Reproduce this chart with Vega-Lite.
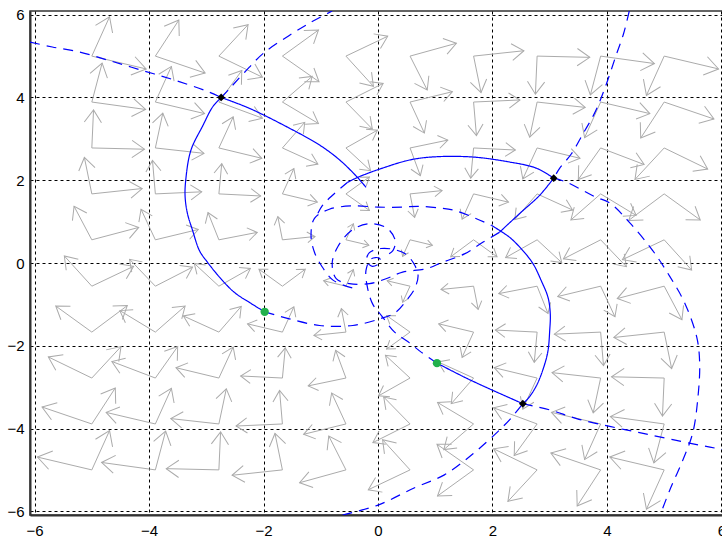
{
"$schema": "https://vega.github.io/schema/vega-lite/v6.json",
"width": 696, "height": 504,
"autosize": {"type": "none"},
"padding": {"left": 30, "top": 11, "right": 0, "bottom": 23},
"background": "white",
"config": {
  "view": {"stroke": "#333333", "strokeWidth": 1.5},
  "axis": {"grid": true, "gridColor": "#000000", "gridDash": [3,3], "gridWidth": 1, "gridOpacity": 1, "ticks": false, "domain": true, "domainColor": "#333333", "domainWidth": 2, "labelFont": "Liberation Sans", "labelFontSize": 15, "labelColor": "#000000", "labelFlush": false, "labelOverlap": false, "format": "d"}
},
"datasets": {
"arrows": [
{"x":0.56,"y":0.56,"u":0.95,"v":0.43,"d":13,"m":0.42},{"x":0.56,"y":0.56,"u":0.43,"v":0.16,"d":114,"m":0.42},
{"x":1.67,"y":0.56,"u":2.08,"v":0.15,"d":35,"m":0.57},{"x":1.67,"y":0.56,"u":1.27,"v":0.15,"d":144,"m":0.57},
{"x":2.78,"y":0.56,"u":3.21,"v":0.01,"d":42,"m":0.69},{"x":2.78,"y":0.56,"u":2.23,"v":0.13,"d":150,"m":0.69},
{"x":3.89,"y":0.56,"u":4.34,"v":-0.09,"d":46,"m":0.79},{"x":3.89,"y":0.56,"u":3.24,"v":0.10,"d":153,"m":0.79},
{"x":5,"y":0.56,"u":5.48,"v":-0.17,"d":48,"m":0.87},{"x":5,"y":0.56,"u":4.27,"v":0.08,"d":155,"m":0.87},
{"x":0.56,"y":1.67,"u":1.12,"v":1.75,"d":-6,"m":0.57},{"x":0.56,"y":1.67,"u":0.64,"v":1.10,"d":78,"m":0.57},
{"x":1.67,"y":1.67,"u":2.28,"v":1.47,"d":13,"m":0.64},{"x":1.67,"y":1.67,"u":1.47,"v":1.06,"d":114,"m":0.64},
{"x":2.78,"y":1.67,"u":3.40,"v":1.28,"d":24,"m":0.73},{"x":2.78,"y":1.67,"u":2.39,"v":1.05,"d":131,"m":0.73},
{"x":3.89,"y":1.67,"u":4.51,"v":1.15,"d":31,"m":0.81},{"x":3.89,"y":1.67,"u":3.37,"v":1.04,"d":139,"m":0.81},
{"x":5,"y":1.67,"u":5.63,"v":1.04,"d":35,"m":0.89},{"x":5,"y":1.67,"u":4.38,"v":1.03,"d":144,"m":0.89},
{"x":0.56,"y":2.78,"u":1.22,"v":2.97,"d":-11,"m":0.69},{"x":0.56,"y":2.78,"u":0.74,"v":2.11,"d":69,"m":0.69},
{"x":1.67,"y":2.78,"u":2.40,"v":2.73,"d":3,"m":0.73},{"x":1.67,"y":2.78,"u":1.62,"v":2.05,"d":95,"m":0.73},
{"x":2.78,"y":2.78,"u":3.53,"v":2.53,"d":13,"m":0.79},{"x":2.78,"y":2.78,"u":2.53,"v":2.03,"d":114,"m":0.79},
{"x":3.89,"y":2.78,"u":4.65,"v":2.38,"d":21,"m":0.86},{"x":3.89,"y":2.78,"u":3.50,"v":2.02,"d":126,"m":0.86},
{"x":5,"y":2.78,"u":5.76,"v":2.27,"d":26,"m":0.92},{"x":5,"y":2.78,"u":4.49,"v":2.02,"d":133,"m":0.92},
{"x":0.56,"y":3.89,"u":1.30,"v":4.14,"d":-14,"m":0.79},{"x":0.56,"y":3.89,"u":0.81,"v":3.14,"d":65,"m":0.79},
{"x":1.67,"y":3.89,"u":2.48,"v":3.94,"d":-3,"m":0.81},{"x":1.67,"y":3.89,"u":1.72,"v":3.08,"d":85,"m":0.81},
{"x":2.78,"y":3.89,"u":3.62,"v":3.76,"d":6,"m":0.86},{"x":2.78,"y":3.89,"u":2.65,"v":3.04,"d":102,"m":0.86},
{"x":3.89,"y":3.89,"u":4.75,"v":3.61,"d":13,"m":0.9},{"x":3.89,"y":3.89,"u":3.61,"v":3.03,"d":114,"m":0.9},
{"x":5,"y":3.89,"u":5.87,"v":3.48,"d":19,"m":0.96},{"x":5,"y":3.89,"u":4.59,"v":3.02,"d":123,"m":0.96},
{"x":0.56,"y":5,"u":1.37,"v":5.31,"d":-15,"m":0.87},{"x":0.56,"y":5,"u":0.86,"v":4.18,"d":62,"m":0.87},
{"x":1.67,"y":5,"u":2.55,"v":5.13,"d":-6,"m":0.89},{"x":1.67,"y":5,"u":1.80,"v":4.12,"d":78,"m":0.89},
{"x":2.78,"y":5,"u":3.70,"v":4.97,"d":1,"m":0.92},{"x":2.78,"y":5,"u":2.75,"v":4.08,"d":93,"m":0.92},
{"x":3.89,"y":5,"u":4.83,"v":4.82,"d":8,"m":0.96},{"x":3.89,"y":5,"u":3.71,"v":4.06,"d":105,"m":0.96},
{"x":5,"y":5,"u":5.95,"v":4.69,"d":13,"m":1},{"x":5,"y":5,"u":4.69,"v":4.05,"d":114,"m":1},
{"x":-0.56,"y":0.56,"u":-0.43,"v":0.95,"d":-66,"m":0.42},{"x":-0.56,"y":0.56,"u":-0.16,"v":0.43,"d":13,"m":0.42},
{"x":-0.56,"y":1.67,"u":-0.15,"v":2.08,"d":-36,"m":0.57},{"x":-0.56,"y":1.67,"u":-0.15,"v":1.27,"d":35,"m":0.57},
{"x":-0.56,"y":2.78,"u":-0.01,"v":3.21,"d":-30,"m":0.69},{"x":-0.56,"y":2.78,"u":-0.13,"v":2.23,"d":42,"m":0.69},
{"x":-0.56,"y":3.89,"u":0.09,"v":4.34,"d":-27,"m":0.79},{"x":-0.56,"y":3.89,"u":-0.10,"v":3.24,"d":46,"m":0.79},
{"x":-0.56,"y":5,"u":0.17,"v":5.48,"d":-25,"m":0.87},{"x":-0.56,"y":5,"u":-0.08,"v":4.27,"d":48,"m":0.87},
{"x":-1.67,"y":0.56,"u":-1.75,"v":1.12,"d":-102,"m":0.57},{"x":-1.67,"y":0.56,"u":-1.10,"v":0.64,"d":-6,"m":0.57},
{"x":-1.67,"y":1.67,"u":-1.47,"v":2.28,"d":-66,"m":0.64},{"x":-1.67,"y":1.67,"u":-1.06,"v":1.47,"d":13,"m":0.64},
{"x":-1.67,"y":2.78,"u":-1.28,"v":3.40,"d":-49,"m":0.73},{"x":-1.67,"y":2.78,"u":-1.05,"v":2.39,"d":24,"m":0.73},
{"x":-1.67,"y":3.89,"u":-1.15,"v":4.51,"d":-41,"m":0.81},{"x":-1.67,"y":3.89,"u":-1.04,"v":3.37,"d":31,"m":0.81},
{"x":-1.67,"y":5,"u":-1.04,"v":5.63,"d":-36,"m":0.89},{"x":-1.67,"y":5,"u":-1.03,"v":4.38,"d":35,"m":0.89},
{"x":-2.78,"y":0.56,"u":-2.97,"v":1.22,"d":-111,"m":0.69},{"x":-2.78,"y":0.56,"u":-2.11,"v":0.74,"d":-11,"m":0.69},
{"x":-2.78,"y":1.67,"u":-2.73,"v":2.40,"d":-85,"m":0.73},{"x":-2.78,"y":1.67,"u":-2.05,"v":1.62,"d":3,"m":0.73},
{"x":-2.78,"y":2.78,"u":-2.53,"v":3.53,"d":-66,"m":0.79},{"x":-2.78,"y":2.78,"u":-2.03,"v":2.53,"d":13,"m":0.79},
{"x":-2.78,"y":3.89,"u":-2.38,"v":4.65,"d":-54,"m":0.86},{"x":-2.78,"y":3.89,"u":-2.02,"v":3.50,"d":21,"m":0.86},
{"x":-2.78,"y":5,"u":-2.27,"v":5.76,"d":-47,"m":0.92},{"x":-2.78,"y":5,"u":-2.02,"v":4.49,"d":26,"m":0.92},
{"x":-3.89,"y":0.56,"u":-4.14,"v":1.30,"d":-115,"m":0.79},{"x":-3.89,"y":0.56,"u":-3.14,"v":0.81,"d":-14,"m":0.79},
{"x":-3.89,"y":1.67,"u":-3.94,"v":2.48,"d":-95,"m":0.81},{"x":-3.89,"y":1.67,"u":-3.08,"v":1.72,"d":-3,"m":0.81},
{"x":-3.89,"y":2.78,"u":-3.76,"v":3.62,"d":-78,"m":0.86},{"x":-3.89,"y":2.78,"u":-3.04,"v":2.65,"d":6,"m":0.86},
{"x":-3.89,"y":3.89,"u":-3.61,"v":4.75,"d":-66,"m":0.9},{"x":-3.89,"y":3.89,"u":-3.03,"v":3.61,"d":13,"m":0.9},
{"x":-3.89,"y":5,"u":-3.48,"v":5.87,"d":-57,"m":0.96},{"x":-3.89,"y":5,"u":-3.02,"v":4.59,"d":19,"m":0.96},
{"x":-5,"y":0.56,"u":-5.31,"v":1.37,"d":-118,"m":0.87},{"x":-5,"y":0.56,"u":-4.18,"v":0.86,"d":-15,"m":0.87},
{"x":-5,"y":1.67,"u":-5.13,"v":2.55,"d":-102,"m":0.89},{"x":-5,"y":1.67,"u":-4.12,"v":1.80,"d":-6,"m":0.89},
{"x":-5,"y":2.78,"u":-4.97,"v":3.70,"d":-87,"m":0.92},{"x":-5,"y":2.78,"u":-4.08,"v":2.75,"d":1,"m":0.92},
{"x":-5,"y":3.89,"u":-4.82,"v":4.83,"d":-75,"m":0.96},{"x":-5,"y":3.89,"u":-4.06,"v":3.71,"d":8,"m":0.96},
{"x":-5,"y":5,"u":-4.69,"v":5.95,"d":-66,"m":1},{"x":-5,"y":5,"u":-4.05,"v":4.69,"d":13,"m":1},
{"x":-0.56,"y":-0.56,"u":-0.95,"v":-0.43,"d":-167,"m":0.42},{"x":-0.56,"y":-0.56,"u":-0.43,"v":-0.16,"d":-66,"m":0.42},
{"x":-1.67,"y":-0.56,"u":-2.08,"v":-0.15,"d":-145,"m":0.57},{"x":-1.67,"y":-0.56,"u":-1.27,"v":-0.15,"d":-36,"m":0.57},
{"x":-2.78,"y":-0.56,"u":-3.21,"v":-0.01,"d":-138,"m":0.69},{"x":-2.78,"y":-0.56,"u":-2.23,"v":-0.13,"d":-30,"m":0.69},
{"x":-3.89,"y":-0.56,"u":-4.34,"v":0.09,"d":-134,"m":0.79},{"x":-3.89,"y":-0.56,"u":-3.24,"v":-0.10,"d":-27,"m":0.79},
{"x":-5,"y":-0.56,"u":-5.48,"v":0.17,"d":-132,"m":0.87},{"x":-5,"y":-0.56,"u":-4.27,"v":-0.08,"d":-25,"m":0.87},
{"x":-0.56,"y":-1.67,"u":-1.12,"v":-1.75,"d":174,"m":0.57},{"x":-0.56,"y":-1.67,"u":-0.64,"v":-1.10,"d":-102,"m":0.57},
{"x":-1.67,"y":-1.67,"u":-2.28,"v":-1.47,"d":-167,"m":0.64},{"x":-1.67,"y":-1.67,"u":-1.47,"v":-1.06,"d":-66,"m":0.64},
{"x":-2.78,"y":-1.67,"u":-3.40,"v":-1.28,"d":-156,"m":0.73},{"x":-2.78,"y":-1.67,"u":-2.39,"v":-1.05,"d":-49,"m":0.73},
{"x":-3.89,"y":-1.67,"u":-4.51,"v":-1.15,"d":-149,"m":0.81},{"x":-3.89,"y":-1.67,"u":-3.37,"v":-1.04,"d":-41,"m":0.81},
{"x":-5,"y":-1.67,"u":-5.63,"v":-1.04,"d":-145,"m":0.89},{"x":-5,"y":-1.67,"u":-4.38,"v":-1.03,"d":-36,"m":0.89},
{"x":-0.56,"y":-2.78,"u":-1.22,"v":-2.97,"d":169,"m":0.69},{"x":-0.56,"y":-2.78,"u":-0.74,"v":-2.11,"d":-111,"m":0.69},
{"x":-1.67,"y":-2.78,"u":-2.40,"v":-2.73,"d":-177,"m":0.73},{"x":-1.67,"y":-2.78,"u":-1.62,"v":-2.05,"d":-85,"m":0.73},
{"x":-2.78,"y":-2.78,"u":-3.53,"v":-2.53,"d":-167,"m":0.79},{"x":-2.78,"y":-2.78,"u":-2.53,"v":-2.03,"d":-66,"m":0.79},
{"x":-3.89,"y":-2.78,"u":-4.65,"v":-2.38,"d":-159,"m":0.86},{"x":-3.89,"y":-2.78,"u":-3.50,"v":-2.02,"d":-54,"m":0.86},
{"x":-5,"y":-2.78,"u":-5.76,"v":-2.27,"d":-154,"m":0.92},{"x":-5,"y":-2.78,"u":-4.49,"v":-2.02,"d":-47,"m":0.92},
{"x":-0.56,"y":-3.89,"u":-1.30,"v":-4.14,"d":166,"m":0.79},{"x":-0.56,"y":-3.89,"u":-0.81,"v":-3.14,"d":-115,"m":0.79},
{"x":-1.67,"y":-3.89,"u":-2.48,"v":-3.94,"d":177,"m":0.81},{"x":-1.67,"y":-3.89,"u":-1.72,"v":-3.08,"d":-95,"m":0.81},
{"x":-2.78,"y":-3.89,"u":-3.62,"v":-3.76,"d":-174,"m":0.86},{"x":-2.78,"y":-3.89,"u":-2.65,"v":-3.04,"d":-78,"m":0.86},
{"x":-3.89,"y":-3.89,"u":-4.75,"v":-3.61,"d":-167,"m":0.9},{"x":-3.89,"y":-3.89,"u":-3.61,"v":-3.03,"d":-66,"m":0.9},
{"x":-5,"y":-3.89,"u":-5.87,"v":-3.48,"d":-161,"m":0.96},{"x":-5,"y":-3.89,"u":-4.59,"v":-3.02,"d":-57,"m":0.96},
{"x":-0.56,"y":-5,"u":-1.37,"v":-5.31,"d":165,"m":0.87},{"x":-0.56,"y":-5,"u":-0.86,"v":-4.18,"d":-118,"m":0.87},
{"x":-1.67,"y":-5,"u":-2.55,"v":-5.13,"d":174,"m":0.89},{"x":-1.67,"y":-5,"u":-1.80,"v":-4.12,"d":-102,"m":0.89},
{"x":-2.78,"y":-5,"u":-3.70,"v":-4.97,"d":-179,"m":0.92},{"x":-2.78,"y":-5,"u":-2.75,"v":-4.08,"d":-87,"m":0.92},
{"x":-3.89,"y":-5,"u":-4.83,"v":-4.82,"d":-172,"m":0.96},{"x":-3.89,"y":-5,"u":-3.71,"v":-4.06,"d":-75,"m":0.96},
{"x":-5,"y":-5,"u":-5.95,"v":-4.69,"d":-167,"m":1},{"x":-5,"y":-5,"u":-4.69,"v":-4.05,"d":-66,"m":1},
{"x":0.56,"y":-0.56,"u":0.43,"v":-0.95,"d":114,"m":0.42},{"x":0.56,"y":-0.56,"u":0.16,"v":-0.43,"d":-167,"m":0.42},
{"x":0.56,"y":-1.67,"u":0.15,"v":-2.08,"d":144,"m":0.57},{"x":0.56,"y":-1.67,"u":0.15,"v":-1.27,"d":-145,"m":0.57},
{"x":0.56,"y":-2.78,"u":0.01,"v":-3.21,"d":150,"m":0.69},{"x":0.56,"y":-2.78,"u":0.13,"v":-2.23,"d":-138,"m":0.69},
{"x":0.56,"y":-3.89,"u":-0.09,"v":-4.34,"d":153,"m":0.79},{"x":0.56,"y":-3.89,"u":0.10,"v":-3.24,"d":-134,"m":0.79},
{"x":0.56,"y":-5,"u":-0.17,"v":-5.48,"d":155,"m":0.87},{"x":0.56,"y":-5,"u":0.08,"v":-4.27,"d":-132,"m":0.87},
{"x":1.67,"y":-0.56,"u":1.75,"v":-1.12,"d":78,"m":0.57},{"x":1.67,"y":-0.56,"u":1.10,"v":-0.64,"d":174,"m":0.57},
{"x":1.67,"y":-1.67,"u":1.47,"v":-2.28,"d":114,"m":0.64},{"x":1.67,"y":-1.67,"u":1.06,"v":-1.47,"d":-167,"m":0.64},
{"x":1.67,"y":-2.78,"u":1.28,"v":-3.40,"d":131,"m":0.73},{"x":1.67,"y":-2.78,"u":1.05,"v":-2.39,"d":-156,"m":0.73},
{"x":1.67,"y":-3.89,"u":1.15,"v":-4.51,"d":139,"m":0.81},{"x":1.67,"y":-3.89,"u":1.04,"v":-3.37,"d":-149,"m":0.81},
{"x":1.67,"y":-5,"u":1.04,"v":-5.63,"d":144,"m":0.89},{"x":1.67,"y":-5,"u":1.03,"v":-4.38,"d":-145,"m":0.89},
{"x":2.78,"y":-0.56,"u":2.97,"v":-1.22,"d":69,"m":0.69},{"x":2.78,"y":-0.56,"u":2.11,"v":-0.74,"d":169,"m":0.69},
{"x":2.78,"y":-1.67,"u":2.73,"v":-2.40,"d":95,"m":0.73},{"x":2.78,"y":-1.67,"u":2.05,"v":-1.62,"d":-177,"m":0.73},
{"x":2.78,"y":-2.78,"u":2.53,"v":-3.53,"d":114,"m":0.79},{"x":2.78,"y":-2.78,"u":2.03,"v":-2.53,"d":-167,"m":0.79},
{"x":2.78,"y":-3.89,"u":2.38,"v":-4.65,"d":126,"m":0.86},{"x":2.78,"y":-3.89,"u":2.02,"v":-3.50,"d":-159,"m":0.86},
{"x":2.78,"y":-5,"u":2.27,"v":-5.76,"d":133,"m":0.92},{"x":2.78,"y":-5,"u":2.02,"v":-4.49,"d":-154,"m":0.92},
{"x":3.89,"y":-0.56,"u":4.14,"v":-1.30,"d":65,"m":0.79},{"x":3.89,"y":-0.56,"u":3.14,"v":-0.81,"d":166,"m":0.79},
{"x":3.89,"y":-1.67,"u":3.94,"v":-2.48,"d":85,"m":0.81},{"x":3.89,"y":-1.67,"u":3.08,"v":-1.72,"d":177,"m":0.81},
{"x":3.89,"y":-2.78,"u":3.76,"v":-3.62,"d":102,"m":0.86},{"x":3.89,"y":-2.78,"u":3.04,"v":-2.65,"d":-174,"m":0.86},
{"x":3.89,"y":-3.89,"u":3.61,"v":-4.75,"d":114,"m":0.9},{"x":3.89,"y":-3.89,"u":3.03,"v":-3.61,"d":-167,"m":0.9},
{"x":3.89,"y":-5,"u":3.48,"v":-5.87,"d":123,"m":0.96},{"x":3.89,"y":-5,"u":3.02,"v":-4.59,"d":-161,"m":0.96},
{"x":5,"y":-0.56,"u":5.31,"v":-1.37,"d":62,"m":0.87},{"x":5,"y":-0.56,"u":4.18,"v":-0.86,"d":165,"m":0.87},
{"x":5,"y":-1.67,"u":5.13,"v":-2.55,"d":78,"m":0.89},{"x":5,"y":-1.67,"u":4.12,"v":-1.80,"d":174,"m":0.89},
{"x":5,"y":-2.78,"u":4.97,"v":-3.70,"d":93,"m":0.92},{"x":5,"y":-2.78,"u":4.08,"v":-2.75,"d":-179,"m":0.92},
{"x":5,"y":-3.89,"u":4.82,"v":-4.83,"d":105,"m":0.96},{"x":5,"y":-3.89,"u":4.06,"v":-3.71,"d":-172,"m":0.96},
{"x":5,"y":-5,"u":4.69,"v":-5.95,"d":114,"m":1},{"x":5,"y":-5,"u":4.05,"v":-4.69,"d":-167,"m":1}
],
"curves": [
{"id":"S1","k":"s","o":1,"x":-1.98,"y":-1.18},{"id":"S1","k":"s","o":2,"x":-2.25,"y":-0.95},{"id":"S1","k":"s","o":3,"x":-2.51,"y":-0.71},{"id":"S1","k":"s","o":4,"x":-2.77,"y":-0.34},{"id":"S1","k":"s","o":5,"x":-2.98,"y":0.02},{"id":"S1","k":"s","o":6,"x":-3.12,"y":0.3},{"id":"S1","k":"s","o":7,"x":-3.24,"y":0.79},{"id":"S1","k":"s","o":8,"x":-3.33,"y":1.2},{"id":"S1","k":"s","o":9,"x":-3.37,"y":1.6},{"id":"S1","k":"s","o":10,"x":-3.36,"y":1.99},{"id":"S1","k":"s","o":11,"x":-3.27,"y":2.72},{"id":"S1","k":"s","o":12,"x":-3.06,"y":3.32},{"id":"S1","k":"s","o":13,"x":-2.89,"y":3.77},{"id":"S1","k":"s","o":14,"x":-2.74,"y":4.0},
{"id":"S2","k":"s","o":1,"x":-2.74,"y":4.0},{"id":"S2","k":"s","o":2,"x":-2.25,"y":3.74},{"id":"S2","k":"s","o":3,"x":-1.55,"y":3.26},{"id":"S2","k":"s","o":4,"x":-1.02,"y":2.85},{"id":"S2","k":"s","o":5,"x":-0.67,"y":2.49},{"id":"S2","k":"s","o":6,"x":-0.38,"y":2.1},{"id":"S2","k":"s","o":7,"x":-0.21,"y":1.83},
{"id":"S3","k":"s","o":1,"x":-0.53,"y":1.95},{"id":"S3","k":"s","o":2,"x":-0.37,"y":2.06},{"id":"S3","k":"s","o":3,"x":0.03,"y":2.27},{"id":"S3","k":"s","o":4,"x":0.67,"y":2.52},{"id":"S3","k":"s","o":5,"x":1.55,"y":2.57},{"id":"S3","k":"s","o":6,"x":2.3,"y":2.44},{"id":"S3","k":"s","o":7,"x":2.77,"y":2.29},{"id":"S3","k":"s","o":8,"x":3.07,"y":2.05},
{"id":"S4","k":"s","o":1,"x":3.07,"y":2.05},{"id":"S4","k":"s","o":2,"x":2.82,"y":1.63},{"id":"S4","k":"s","o":3,"x":2.47,"y":1.19},{"id":"S4","k":"s","o":4,"x":2.12,"y":0.74},
{"id":"S5","k":"s","o":1,"x":1.98,"y":0.91},{"id":"S5","k":"s","o":2,"x":2.3,"y":0.62},{"id":"S5","k":"s","o":3,"x":2.53,"y":0.3},{"id":"S5","k":"s","o":4,"x":2.71,"y":-0.02},{"id":"S5","k":"s","o":5,"x":2.85,"y":-0.42},{"id":"S5","k":"s","o":6,"x":2.97,"y":-0.83},{"id":"S5","k":"s","o":7,"x":3.01,"y":-1.23},{"id":"S5","k":"s","o":8,"x":3.0,"y":-1.63},{"id":"S5","k":"s","o":9,"x":2.97,"y":-2.12},{"id":"S5","k":"s","o":10,"x":2.9,"y":-2.5},{"id":"S5","k":"s","o":11,"x":2.77,"y":-2.96},{"id":"S5","k":"s","o":12,"x":2.62,"y":-3.28},{"id":"S5","k":"s","o":13,"x":2.53,"y":-3.4},
{"id":"S6","k":"s","o":1,"x":2.53,"y":-3.4},{"id":"S6","k":"s","o":2,"x":1.6,"y":-2.82},{"id":"S6","k":"s","o":3,"x":1.03,"y":-2.42},
{"id":"D1","k":"d","o":1,"x":-6.08,"y":5.34},{"id":"D1","k":"d","o":2,"x":-5.69,"y":5.22},{"id":"D1","k":"d","o":3,"x":-5.22,"y":5.1},{"id":"D1","k":"d","o":4,"x":-4.69,"y":4.89},{"id":"D1","k":"d","o":5,"x":-4.11,"y":4.65},{"id":"D1","k":"d","o":6,"x":-3.53,"y":4.41},{"id":"D1","k":"d","o":7,"x":-2.95,"y":4.13},{"id":"D1","k":"d","o":8,"x":-2.74,"y":4.0},
{"id":"D2","k":"d","o":1,"x":-2.74,"y":4.0},{"id":"D2","k":"d","o":2,"x":-2.57,"y":4.25},{"id":"D2","k":"d","o":3,"x":-2.33,"y":4.61},{"id":"D2","k":"d","o":4,"x":-2.01,"y":5.06},{"id":"D2","k":"d","o":5,"x":-1.55,"y":5.5},{"id":"D2","k":"d","o":6,"x":-1.17,"y":5.82},{"id":"D2","k":"d","o":7,"x":-0.8,"y":6.09},
{"id":"D3","k":"d","o":1,"x":4.39,"y":6.09},{"id":"D3","k":"d","o":2,"x":4.29,"y":5.54},{"id":"D3","k":"d","o":3,"x":4.16,"y":5.02},{"id":"D3","k":"d","o":4,"x":3.96,"y":4.21},{"id":"D3","k":"d","o":5,"x":3.78,"y":3.61},{"id":"D3","k":"d","o":6,"x":3.58,"y":3.12},{"id":"D3","k":"d","o":7,"x":3.38,"y":2.64},{"id":"D3","k":"d","o":8,"x":3.17,"y":2.28},{"id":"D3","k":"d","o":9,"x":3.07,"y":2.05},
{"id":"D4","k":"d","o":1,"x":3.07,"y":2.05},{"id":"D4","k":"d","o":2,"x":3.3,"y":1.95},{"id":"D4","k":"d","o":3,"x":3.79,"y":1.6},{"id":"D4","k":"d","o":4,"x":4.05,"y":1.45},{"id":"D4","k":"d","o":5,"x":4.4,"y":0.97},{"id":"D4","k":"d","o":6,"x":4.8,"y":0.3},{"id":"D4","k":"d","o":7,"x":5.1,"y":-0.33},{"id":"D4","k":"d","o":8,"x":5.36,"y":-0.97},{"id":"D4","k":"d","o":9,"x":5.57,"y":-1.8},{"id":"D4","k":"d","o":10,"x":5.62,"y":-2.42},{"id":"D4","k":"d","o":11,"x":5.59,"y":-3.24},{"id":"D4","k":"d","o":12,"x":5.5,"y":-4.1},{"id":"D4","k":"d","o":13,"x":5.33,"y":-4.75},{"id":"D4","k":"d","o":14,"x":5.1,"y":-5.48},{"id":"D4","k":"d","o":15,"x":4.93,"y":-6.09},
{"id":"D5","k":"d","o":1,"x":2.53,"y":-3.4},{"id":"D5","k":"d","o":2,"x":3.0,"y":-3.55},{"id":"D5","k":"d","o":3,"x":3.47,"y":-3.76},{"id":"D5","k":"d","o":4,"x":4.05,"y":-3.95},{"id":"D5","k":"d","o":5,"x":4.57,"y":-4.1},{"id":"D5","k":"d","o":6,"x":5.15,"y":-4.27},{"id":"D5","k":"d","o":7,"x":5.8,"y":-4.45},{"id":"D5","k":"d","o":8,"x":6.08,"y":-4.52},
{"id":"D6","k":"d","o":1,"x":-0.62,"y":-6.09},{"id":"D6","k":"d","o":2,"x":0.0,"y":-5.85},{"id":"D6","k":"d","o":3,"x":0.64,"y":-5.43},{"id":"D6","k":"d","o":4,"x":1.16,"y":-5.12},{"id":"D6","k":"d","o":5,"x":1.66,"y":-4.61},{"id":"D6","k":"d","o":6,"x":2.09,"y":-4.08},{"id":"D6","k":"d","o":7,"x":2.33,"y":-3.74},{"id":"D6","k":"d","o":8,"x":2.53,"y":-3.4},
{"id":"C1","k":"d","o":1,"x":-1.98,"y":-1.18},{"id":"C1","k":"d","o":2,"x":-1.55,"y":-1.35},{"id":"C1","k":"d","o":3,"x":-1.02,"y":-1.51},{"id":"C1","k":"d","o":4,"x":-0.44,"y":-1.51},{"id":"C1","k":"d","o":5,"x":0.03,"y":-1.35},{"id":"C1","k":"d","o":6,"x":0.3,"y":-1.2},{"id":"C1","k":"d","o":7,"x":0.5,"y":-0.9},{"id":"C1","k":"d","o":8,"x":0.64,"y":-0.62},{"id":"C1","k":"d","o":9,"x":0.7,"y":-0.3},{"id":"C1","k":"d","o":10,"x":0.64,"y":-0.05},{"id":"C1","k":"d","o":11,"x":0.5,"y":0.2},{"id":"C1","k":"d","o":12,"x":0.3,"y":0.32},{"id":"C1","k":"d","o":13,"x":0.05,"y":0.35},{"id":"C1","k":"d","o":14,"x":-0.15,"y":0.25},{"id":"C1","k":"d","o":15,"x":-0.2,"y":0.05},{"id":"C1","k":"d","o":16,"x":-0.1,"y":-0.08},{"id":"C1","k":"d","o":17,"x":0.02,"y":-0.02},
{"id":"C2","k":"d","o":1,"x":1.03,"y":-2.42},{"id":"C2","k":"d","o":2,"x":0.76,"y":-2.16},{"id":"C2","k":"d","o":3,"x":0.55,"y":-1.93},{"id":"C2","k":"d","o":4,"x":0.29,"y":-1.67},{"id":"C2","k":"d","o":5,"x":0.06,"y":-1.27},{"id":"C2","k":"d","o":6,"x":-0.09,"y":-1.0},{"id":"C2","k":"d","o":7,"x":-0.18,"y":-0.62},{"id":"C2","k":"d","o":8,"x":-0.21,"y":-0.18},{"id":"C2","k":"d","o":9,"x":-0.12,"y":0.1},{"id":"C2","k":"d","o":10,"x":0.02,"y":0.12},{"id":"C2","k":"d","o":11,"x":0.06,"y":0.02},
{"id":"C3","k":"d","o":1,"x":2.12,"y":0.74},{"id":"C3","k":"d","o":2,"x":1.83,"y":0.5},{"id":"C3","k":"d","o":3,"x":1.51,"y":0.22},{"id":"C3","k":"d","o":4,"x":1.13,"y":0.02},{"id":"C3","k":"d","o":5,"x":0.84,"y":-0.14},{"id":"C3","k":"d","o":6,"x":0.43,"y":-0.22},{"id":"C3","k":"d","o":7,"x":0.14,"y":-0.38},{"id":"C3","k":"d","o":8,"x":-0.15,"y":-0.5},{"id":"C3","k":"d","o":9,"x":-0.5,"y":-0.5},{"id":"C3","k":"d","o":10,"x":-0.73,"y":-0.38},{"id":"C3","k":"d","o":11,"x":-0.8,"y":0.0},{"id":"C3","k":"d","o":12,"x":-0.7,"y":0.4},{"id":"C3","k":"d","o":13,"x":-0.45,"y":0.8},{"id":"C3","k":"d","o":14,"x":-0.15,"y":0.95},{"id":"C3","k":"d","o":15,"x":0.15,"y":0.85},{"id":"C3","k":"d","o":16,"x":0.3,"y":0.55},{"id":"C3","k":"d","o":17,"x":0.26,"y":0.3},{"id":"C3","k":"d","o":18,"x":0.1,"y":0.15},
{"id":"C4","k":"d","o":1,"x":-0.45,"y":-0.6},{"id":"C4","k":"d","o":2,"x":-0.78,"y":-0.42},{"id":"C4","k":"d","o":3,"x":-0.99,"y":-0.06},{"id":"C4","k":"d","o":4,"x":-1.11,"y":0.26},{"id":"C4","k":"d","o":5,"x":-1.17,"y":0.66},{"id":"C4","k":"d","o":6,"x":-1.11,"y":1.08},{"id":"C4","k":"d","o":7,"x":-0.85,"y":1.3},{"id":"C4","k":"d","o":8,"x":-0.45,"y":1.38},{"id":"C4","k":"d","o":9,"x":0.0,"y":1.35},{"id":"C4","k":"d","o":10,"x":0.43,"y":1.35},{"id":"C4","k":"d","o":11,"x":0.7,"y":1.37},{"id":"C4","k":"d","o":12,"x":1.08,"y":1.33},{"id":"C4","k":"d","o":13,"x":1.34,"y":1.27},{"id":"C4","k":"d","o":14,"x":1.72,"y":1.07},{"id":"C4","k":"d","o":15,"x":1.98,"y":0.91},
{"id":"C5","k":"d","o":1,"x":-1.05,"y":1.2},{"id":"C5","k":"d","o":2,"x":-0.97,"y":1.39},{"id":"C5","k":"d","o":3,"x":-0.8,"y":1.63},{"id":"C5","k":"d","o":4,"x":-0.53,"y":1.95}
],
"pts": [
{"c":"g","x":-1.98,"y":-1.18},{"c":"g","x":1.03,"y":-2.42},
{"c":"b","x":-2.74,"y":4.0},{"c":"b","x":3.07,"y":2.05},{"c":"b","x":2.53,"y":-3.4}
]
},
"layer": [
{"data": {"name": "arrows"},
 "mark": {"type": "rule", "color": "#ababab", "strokeWidth": 1},
 "encoding": {
  "x": {"field": "x", "type": "quantitative", "title": null, "scale": {"domain": [-6.08, 6.08], "nice": false, "zero": false}, "axis": {"values": [-6,-4,-2,0,2,4,6], "format": "d", "labelPadding": 8, "title": null}},
  "y": {"field": "y", "type": "quantitative", "title": null, "scale": {"domain": [-6.09, 6.09], "nice": false, "zero": false}, "axis": {"values": [-6,-4,-2,0,2,4,6], "format": "d", "labelPadding": 6, "title": null}},
  "x2": {"field": "u"}, "y2": {"field": "v"}}},
{"data": {"name": "arrows"},
 "mark": {"type": "point", "shape": "M-0.8,-0.55L0,0L-0.8,0.55", "filled": false, "stroke": "#ababab", "strokeWidth": 1, "opacity": 1},
 "encoding": {
  "x": {"field": "u", "type": "quantitative", "title": null},
  "y": {"field": "v", "type": "quantitative", "title": null},
  "angle": {"field": "d", "type": "quantitative", "scale": null},
  "size": {"field": "m", "type": "quantitative", "scale": {"type": "pow", "exponent": 2, "domain": [0, 1], "range": [0, 1156]}, "legend": null}}},
{"data": {"name": "curves"},
 "mark": {"type": "line", "color": "#0000ff", "strokeWidth": 1.2, "interpolate": "catmull-rom", "clip": true},
 "encoding": {
  "x": {"field": "x", "type": "quantitative", "title": null},
  "y": {"field": "y", "type": "quantitative", "title": null},
  "detail": {"field": "id"},
  "order": {"field": "o", "type": "quantitative"},
  "strokeDash": {"field": "k", "type": "nominal", "scale": {"domain": ["s", "d"], "range": [[1, 0], [10, 7]]}, "legend": null}}},
{"data": {"name": "pts"},
 "transform": [{"filter": {"field": "c", "equal": "g"}}],
 "mark": {"type": "point", "shape": "circle", "filled": true, "color": "#22b14c", "size": 70, "opacity": 1},
 "encoding": {
  "x": {"field": "x", "type": "quantitative", "title": null},
  "y": {"field": "y", "type": "quantitative", "title": null}}},
{"data": {"name": "pts"},
 "transform": [{"filter": {"field": "c", "equal": "b"}}],
 "mark": {"type": "point", "shape": "diamond", "filled": true, "color": "#000000", "size": 60, "opacity": 1},
 "encoding": {
  "x": {"field": "x", "type": "quantitative", "title": null},
  "y": {"field": "y", "type": "quantitative", "title": null}}}
]
}
